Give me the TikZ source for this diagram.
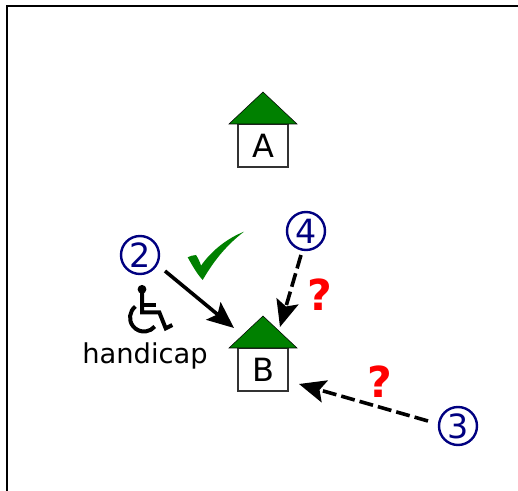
\documentclass[tikz,border=0pt]{standalone}
\usepackage{fontspec}
\setmainfont{DejaVu Sans}
\usetikzlibrary{arrows.meta}
\definecolor{roofgreen}{RGB}{0,128,0}
\definecolor{circnavy}{RGB}{0,0,128}
\definecolor{boxgray}{RGB}{50,50,50}
\tikzset{
  x=0.75pt,y=-0.75pt,
  housebox/.style={draw=boxgray,line width=0.95pt,fill=white,minimum width=37.5pt,minimum height=32.25pt,inner sep=0pt,font=\fontsize{24}{24}\selectfont},
  roof/.style={draw=black,line width=0.4pt,fill=roofgreen,line join=miter},
  num/.style={circle,draw=circnavy,line width=1.8pt,text=circnavy,inner sep=0pt,minimum size=28.5pt,font=\fontsize{25}{25}\selectfont},
  quest/.style={text=red,inner sep=0pt,font=\fontsize{32}{32}\selectfont\bfseries},
  arr/.style={draw=black,line width=2.7pt,-{Stealth[length=20pt,width=17pt,inset=4pt]}},
  darr/.style={arr,dash pattern=on 10.5pt off 3.8pt},
  wheel/.style={draw=black,line width=3pt},
}
\begin{document}
\begin{tikzpicture}
\useasboundingbox (0,0) rectangle (518,491);
\draw[line width=1.5pt] (6.5,491) -- (6.5,6) -- (518,6);
% houses
\node[housebox] (A) at (263,145.5) {A};
\path[roof] (229,124) -- (263,92) -- (297,124) -- cycle;
\node[housebox] (B) at (263,369.5) {B};
\path[roof] (229,348) -- (263,316) -- (297,348) -- cycle;
% numbers
\node[num] (n2) at (140,255) {2};
\node[num] (n4) at (306,231) {4};
\node[num] (n3) at (458,426) {3};
% arrow ends
\coordinate (t2) at (234,328);
\coordinate (t4) at (280,327);
\coordinate (t3) at (299,384);
\coordinate (s2) at (165,271);
\coordinate (s4) at (301,255);
\coordinate (s3) at (428,421);
\draw[arr] (s2) -- (t2);
\draw[darr] (s4) -- (t4);
\draw[darr] (s3) -- (t3);
% check mark
\fill[roofgreen] (187.7,257.3) .. controls (190,256) and (193,255.3) .. (196,255)
  .. controls (198,258) and (200,262) .. (201,265.7)
  .. controls (212,250) and (228,238) .. (244,231.7)
  .. controls (224,247) and (212,264) .. (202.7,280)
  .. controls (197,274) and (192,265) .. (187.7,257.3) -- cycle;
% wheelchair
\fill (142,289.3) circle[radius=3.3pt];
\draw[wheel] (142,289.3) -- (142,312.3) -- (159.3,312.3) -- (165.7,328.3) -- (172.3,325);
\draw[wheel] (142,305) -- (156,305);
\draw[wheel] (135.4,306.5) arc[start angle=128,end angle=320,radius=10.5pt];
\node[inner sep=0pt,font=\fontsize{20.5}{20.5}\selectfont] (hc) at (145,356) {handicap};
\node[quest] (q1) at (320,295) {?};
\node[quest] (q2) at (380,382) {?};
\end{tikzpicture}
\end{document}
